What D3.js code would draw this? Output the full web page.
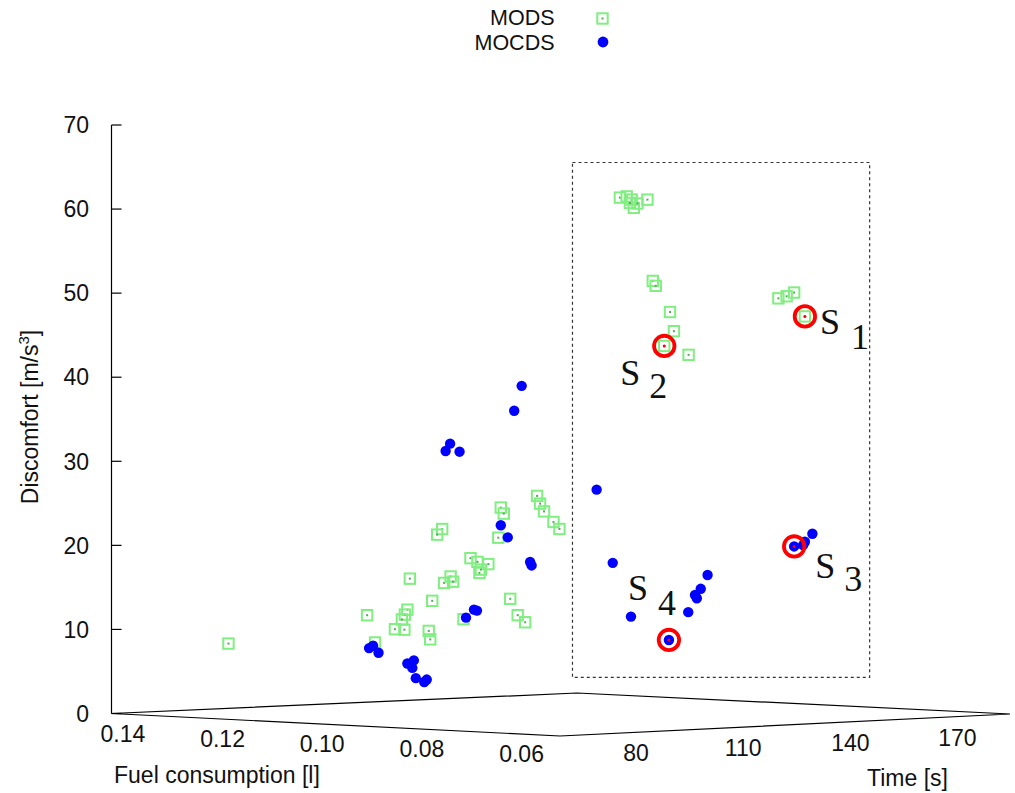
<!DOCTYPE html>
<html>
<head>
<meta charset="utf-8">
<script src="https://cdn.jsdelivr.net/npm/d3@7"></script>
<style>
  html, body { margin: 0; padding: 0; background: #fff; }
  svg { display: block; font-family: "Liberation Sans", Arial, sans-serif; }
  .tick-label, .axis-title { font-size: 23px; fill: #111; }
  .legend-label { font-size: 21.5px; fill: #111; }
  .sel-label { font-family: "Liberation Serif", serif; font-size: 36px; fill: #111; }
</style>
</head>
<body>
<svg id="chart" width="1015" height="793"></svg>
<script>
const FUEL_TICKS = [0.14, 0.12, 0.10, 0.08, 0.06];
const TIME_TICKS = [80, 110, 140, 170];
const DISCOMFORT_TICKS = [0, 10, 20, 30, 40, 50, 60, 70];

// MODS (green squares)
const MODS_FUEL = [
  0.1239, 0.0960, 0.0944, 0.0874, 0.0879, 0.0884, 0.0890, 0.0904, 0.0885, 0.0836,
  0.0833, 0.0829, 0.0809, 0.0819, 0.0805, 0.0792, 0.0787, 0.0766, 0.0752, 0.0738,
  0.0716, 0.0734, 0.0731, 0.0691, 0.0685, 0.0696, 0.0672, 0.0657, 0.0642, 0.0618,
  0.0612, 0.0604, 0.0585, 0.0573, 0.055, 0.055, 0.055, 0.055, 0.055, 0.055,
  0.055, 0.055, 0.055, 0.055, 0.055, 0.055, 0.055, 0.055, 0.055, 0.055, 0.055
];
const MODS_TIME = [
  70, 70, 70, 70, 70, 70, 70, 70, 70, 70,
  70, 70, 70, 70, 70, 70, 70, 70, 70, 70,
  70, 70, 70, 70, 70, 70, 70, 70, 70, 70,
  70, 70, 70, 70, 83.7, 85.6, 87.0, 87.6, 88.6, 91.4,
  86.5, 92.9, 93.7, 97.7, 98.8, 96.1, 102.9, 128.0, 130.3, 132.4, 135.4
];
const MODS_DISCOMFORT = [
  8.6, 12.8, 9.6, 17.4, 13.7, 13.1, 12.5, 11.3, 11.3, 11.3,
  10.3, 14.9, 23.5, 22.8, 17.1, 17.9, 17.3, 12.9, 20.2, 19.8,
  19.6, 18.5, 18.9, 26.4, 25.7, 22.8, 15.6, 13.7, 12.9, 28.0,
  27.1, 26.2, 25.0, 24.2, 63.4, 63.5, 63.1, 62.1, 62.6, 63.0,
  62.7, 53.3, 52.7, 49.5, 47.2, 45.5, 44.3, 50.5, 50.7, 51.1, 48.2
];

// MOCDS (blue dots)
const MOCDS_FUEL = [
  0.0649, 0.0664, 0.0793, 0.0802, 0.0774, 0.0691, 0.0677, 0.0632, 0.0629, 0.0745,
  0.0739, 0.0761, 0.0956, 0.0948, 0.0937, 0.0879, 0.0866, 0.0869, 0.0862, 0.0845,
  0.0840, 0.055, 0.055, 0.055, 0.055, 0.055, 0.055, 0.055, 0.055, 0.055,
  0.055, 0.055, 0.055, 0.055
];
const MOCDS_TIME = [
  70, 70, 70, 70, 70, 70, 70, 70, 70, 70,
  70, 70, 70, 70, 70, 70, 70, 70, 70, 70,
  70, 77.2, 81.7, 86.8, 97.4, 102.8, 104.7, 105.2, 106.3, 108.2,
  132.4, 135.4, 134.9, 137.5
];
const MOCDS_DISCOMFORT = [
  41.0, 38.0, 33.7, 32.8, 32.8, 24.3, 22.9, 20.1, 19.7, 14.1,
  14.0, 13.1, 8.9, 9.2, 8.4, 7.3, 7.7, 6.8, 5.6, 5.2,
  5.5, 28.8, 20.0, 13.5, 10.5, 13.7, 15.7, 15.3, 16.4, 18.0,
  20.9, 21.4, 21.0, 22.3
];

// selected solutions S1..S4
const SELECTED_NAMES = ["1", "2", "3", "4"];
const SELECTED_FUEL = [0.055, 0.055, 0.055, 0.055];
const SELECTED_TIME = [135.4, 96.1, 132.4, 97.4];
const SELECTED_DISCOMFORT = [48.2, 45.5, 20.9, 10.5];

// dashed region around the low-fuel solutions
const FOCUS_TIME = [70.45, 153.5];
const FOCUS_DISCOMFORT = [6.6, 67.85];

const FUEL_DOMAIN = [0.05, 0.14];
const TIME_DOMAIN = [60, 186];
const DISCOMFORT_DOMAIN = [0, 70];

const svg = d3.select("#chart");

// screen position of the floor corners
const floorFront = [560, 736];   // low fuel, low time
const floorLeft = [111.5, 713.5]; // high fuel, low time
const floorRight = [1010, 714];   // low fuel, high time
const floorBack = [577, 693];     // high fuel, high time

const fuelScale = d3.scaleLinear().domain(FUEL_DOMAIN).range([0, 1]);
const timeScale = d3.scaleLinear().domain(TIME_DOMAIN).range([0, 1]);
const zScale = d3.scaleLinear().domain(DISCOMFORT_DOMAIN).range([0, 588.5]);

function project(fuel, time, z) {
  const a = fuelScale(fuel), b = timeScale(time);
  const w = [(1 - a) * (1 - b), a * (1 - b), (1 - a) * b, a * b];
  const c = [floorFront, floorLeft, floorRight, floorBack];
  const x = d3.sum(c, (p, i) => p[0] * w[i]);
  const y = d3.sum(c, (p, i) => p[1] * w[i]);
  return [x, y - zScale(z || 0)];
}

// floor
const floorPts = [
  project(FUEL_DOMAIN[0], TIME_DOMAIN[0], 0),
  project(FUEL_DOMAIN[0], TIME_DOMAIN[1], 0),
  project(FUEL_DOMAIN[1], TIME_DOMAIN[1], 0),
  project(FUEL_DOMAIN[1], TIME_DOMAIN[0], 0)
];
svg.append("path")
  .attr("d", d3.line()(floorPts) + "Z")
  .attr("fill", "none")
  .attr("stroke", "#000")
  .attr("stroke-width", 1.2);

// vertical axis
const zBase = project(FUEL_DOMAIN[1], TIME_DOMAIN[0], 0);
const zTop = project(FUEL_DOMAIN[1], TIME_DOMAIN[0], DISCOMFORT_DOMAIN[1]);
svg.append("line")
  .attr("x1", zBase[0]).attr("y1", zBase[1])
  .attr("x2", zTop[0]).attr("y2", zTop[1])
  .attr("stroke", "#000").attr("stroke-width", 1.2);

const zTicks = svg.append("g").selectAll("g")
  .data(DISCOMFORT_TICKS)
  .join("g")
  .attr("transform", d => {
    const p = project(FUEL_DOMAIN[1], TIME_DOMAIN[0], d);
    return `translate(${p[0]},${p[1]})`;
  });
zTicks.append("line").attr("x2", 10).attr("stroke", "#000").attr("stroke-width", 1.2);
zTicks.append("text")
  .attr("class", "tick-label")
  .attr("x", -22.5)
  .attr("dy", "0.36em")
  .attr("text-anchor", "end")
  .text(d => d);

// fuel tick labels
svg.append("g").selectAll("text")
  .data(FUEL_TICKS)
  .join("text")
  .attr("class", "tick-label")
  .attr("text-anchor", "middle")
  .attr("dy", "0.36em")
  .attr("x", d => project(d, TIME_DOMAIN[0], 0)[0] + 11.4)
  .attr("y", d => project(d, TIME_DOMAIN[0], 0)[1] + 20.5)
  .text(d => d3.format(".2f")(d));

// time tick labels
svg.append("g").selectAll("text")
  .data(TIME_TICKS)
  .join("text")
  .attr("class", "tick-label")
  .attr("text-anchor", "middle")
  .attr("dy", "0.36em")
  .attr("x", d => project(FUEL_DOMAIN[0], d, 0)[0] + 4.6)
  .attr("y", d => project(FUEL_DOMAIN[0], d, 0)[1] + 20.7)
  .text(d => d);

// axis titles
svg.append("text").attr("class", "axis-title")
  .attr("x", 114).attr("y", 783)
  .text("Fuel consumption [l]");
svg.append("text").attr("class", "axis-title")
  .attr("x", 867).attr("y", 785.5)
  .text("Time [s]");
const zTitle = svg.append("text").attr("class", "axis-title")
  .attr("text-anchor", "middle")
  .attr("transform", "translate(38,417) rotate(-90)");
zTitle.append("tspan").text("Discomfort [m/s");
zTitle.append("tspan").attr("font-size", 15).attr("dy", -9).text("3");
zTitle.append("tspan").attr("dy", 9).text("]");

// focus region
const focusTL = project(0.055, FOCUS_TIME[0], FOCUS_DISCOMFORT[1]);
const focusBL = project(0.055, FOCUS_TIME[0], FOCUS_DISCOMFORT[0]);
const focusR = project(0.055, FOCUS_TIME[1], 0);
svg.append("rect")
  .attr("x", focusTL[0]).attr("y", focusTL[1])
  .attr("width", focusR[0] - focusTL[0])
  .attr("height", focusBL[1] - focusTL[1])
  .attr("fill", "none")
  .attr("stroke", "#333")
  .attr("stroke-width", 1.2)
  .attr("stroke-dasharray", "3,3");

const GREEN = "#80ee80";
const BLUE = "#0000ff";

// MODS points
const mods = MODS_FUEL.map((f, i) => project(f, MODS_TIME[i], MODS_DISCOMFORT[i]));
const modsG = svg.append("g").selectAll("g")
  .data(mods)
  .join("g")
  .attr("transform", d => `translate(${d[0]},${d[1]})`);
modsG.append("rect")
  .attr("x", -5.2).attr("y", -5.2).attr("width", 10.4).attr("height", 10.4)
  .attr("fill", "none").attr("stroke", GREEN).attr("stroke-width", 2);
modsG.append("rect")
  .attr("x", -1).attr("y", -1).attr("width", 2).attr("height", 2)
  .attr("fill", "#5a5");

// MOCDS points
const mocds = MOCDS_FUEL.map((f, i) => project(f, MOCDS_TIME[i], MOCDS_DISCOMFORT[i]));
svg.append("g").selectAll("circle")
  .data(mocds)
  .join("circle")
  .attr("cx", d => d[0]).attr("cy", d => d[1])
  .attr("r", 5.2)
  .attr("fill", BLUE);

// selected solutions
const LABEL_OFFSETS = {
  "1": { s: [15, 18], n: [46, 33] },
  "2": { s: [-44, 39], n: [-15, 52] },
  "3": { s: [21, 31.6], n: [50, 45] },
  "4": { s: [-41, -40.3], n: [-11, -25.3] }
};
const selected = SELECTED_NAMES.map((name, i) => ({
  name,
  p: project(SELECTED_FUEL[i], SELECTED_TIME[i], SELECTED_DISCOMFORT[i])
}));
const selG = svg.append("g").selectAll("g")
  .data(selected)
  .join("g")
  .attr("transform", d => `translate(${d.p[0]},${d.p[1]})`);
selG.append("circle")
  .attr("r", 10.2).attr("fill", "none")
  .attr("stroke", "#ff0000").attr("stroke-width", 3.8);
selG.append("circle")
  .attr("r", 1.5).attr("fill", "#ff0000");
selG.append("text")
  .attr("class", "sel-label")
  .attr("x", d => LABEL_OFFSETS[d.name].s[0])
  .attr("y", d => LABEL_OFFSETS[d.name].s[1])
  .text("S");
selG.append("text")
  .attr("class", "sel-label")
  .attr("x", d => LABEL_OFFSETS[d.name].n[0])
  .attr("y", d => LABEL_OFFSETS[d.name].n[1])
  .text(d => d.name);

// legend
const legend = svg.append("g");
legend.append("text").attr("class", "legend-label")
  .attr("x", 554.5).attr("y", 25).attr("text-anchor", "end").text("MODS");
legend.append("rect")
  .attr("x", 597.3).attr("y", 13.3).attr("width", 10.4).attr("height", 10.4)
  .attr("fill", "none").attr("stroke", GREEN).attr("stroke-width", 2);
legend.append("rect")
  .attr("x", 601.5).attr("y", 17.5).attr("width", 2).attr("height", 2).attr("fill", "#5a5");
legend.append("text").attr("class", "legend-label")
  .attr("x", 554.5).attr("y", 49.5).attr("text-anchor", "end").text("MOCDS");
legend.append("circle")
  .attr("cx", 603).attr("cy", 42).attr("r", 5.4).attr("fill", BLUE);
</script>
</body>
</html>
